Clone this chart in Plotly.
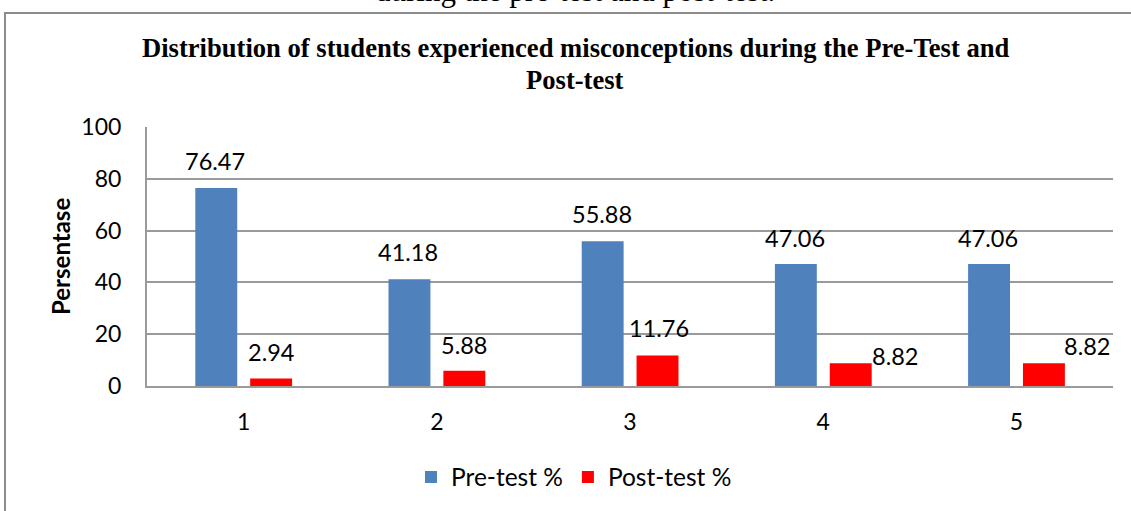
import plotly.graph_objects as go

categories = [1, 2, 3, 4, 5]
pre_test = [76.47, 41.18, 55.88, 47.06, 47.06]
post_test = [2.94, 5.88, 11.76, 8.82, 8.82]
y_ticks = [0, 20, 40, 60, 80, 100]

series_names = ["Pre-test %", "Post-test %"]
title_lines = ["Distribution of students experienced misconceptions during the Pre-Test and", "Post-test"]
caption_above = "during the pre-test and post-test."
y_title = "Persentase"

BLUE = "#4F81BD"
RED = "#FF0000"
GRID = "#9A9A9A"
W, H = 1131, 511
L, R, T, B = 147, 18, 127, 125
PW, PH = W - L - R, H - T - B

def px_x(p):
    return (p - L) / PW

def px_y(p):
    return (H - B - p) / PH

bar_w = 0.217
blue_off = -0.25
red_off = 0.034

fig = go.Figure()
fig.add_trace(go.Bar(x=categories, y=pre_test, name=series_names[0], marker_color=BLUE,
                     width=bar_w, offset=blue_off, marker_line_width=0))
fig.add_trace(go.Bar(x=categories, y=post_test, name=series_names[1], marker_color=RED,
                     width=bar_w, offset=red_off, marker_line_width=0))

font_main = "Lato, 'Noto Sans', sans-serif"
anns = []
# label nudges (pixels) as placed in the reference
pre_yshift = [27, 27, 27, 26, 26]
red_xshift = [0, 0, 1, 44, 43]
red_yshift = [26, 26, 28, 7, 17]
for c, v, ys in zip(categories, pre_test, pre_yshift):
    anns.append(dict(x=c + blue_off + bar_w / 2, y=v, xref="x", yref="y", text=f"{v:.2f}",
                     xanchor="center", yanchor="middle",
                     showarrow=False, yshift=ys, xshift=-1, font=dict(family=font_main, size=23.5, color="#000")))
for c, v, xs, ys in zip(categories, post_test, red_xshift, red_yshift):
    anns.append(dict(x=c + red_off + bar_w / 2, y=v, xref="x", yref="y", text=f"{v:.2f}",
                     xanchor="center", yanchor="middle",
                     showarrow=False, yshift=ys, xshift=xs, font=dict(family=font_main, size=23.5, color="#000")))

serif = "'Liberation Serif', 'Times New Roman', serif"
anns.append(dict(x=px_x(575), y=px_y(48), xref="paper", yref="paper", text=f"<b>{title_lines[0]}</b>",
                 xanchor="center", yanchor="middle",
                 showarrow=False, font=dict(family=serif, size=26.6, color="#000")))
anns.append(dict(x=px_x(575), y=px_y(80), xref="paper", yref="paper", text=f"<b>{title_lines[1]}</b>",
                 xanchor="center", yanchor="middle",
                 showarrow=False, font=dict(family=serif, size=26.6, color="#000")))
anns.append(dict(x=px_x(575), y=px_y(-9), xref="paper", yref="paper", text=caption_above,
                 xanchor="center", yanchor="middle",
                 showarrow=False, font=dict(family=serif, size=31, color="#000")))
anns.append(dict(x=px_x(60), y=px_y(257), xref="paper", yref="paper", text=f"<b>{y_title}</b>",
                 xanchor="center", yanchor="middle",
                 showarrow=False, textangle=-90, font=dict(family=font_main, size=24, color="#000")))

shapes = [dict(type="rect", xref="paper", yref="paper", x0=px_x(5), x1=px_x(1140), y0=px_y(13), y1=px_y(520),
               line=dict(color="#8C8C8C", width=2), fillcolor="rgba(0,0,0,0)", layer="below")]

fig.update_layout(
    width=W, height=H,
    margin=dict(l=L, r=R, t=T, b=B, pad=0),
    paper_bgcolor="white", plot_bgcolor="white",
    annotations=anns, shapes=shapes,
    showlegend=True,
    legend=dict(orientation="h", x=px_x(574), xanchor="center", y=px_y(477), yanchor="middle",
                font=dict(family=font_main, size=24.5, color="#000"), itemwidth=30,
                traceorder="normal"),
    bargap=0.5,
)
fig.update_xaxes(range=[0.5, 5.5], tickvals=categories, ticktext=[str(c) for c in categories],
                 showgrid=False, showline=True, linecolor=GRID, linewidth=2, ticks="",
                 ticklabelstandoff=14, tickfont=dict(family=font_main, size=23, color="#000"),
                 zeroline=False, fixedrange=True)
fig.update_yaxes(range=[0, 100], tickvals=y_ticks, showgrid=True, gridcolor=GRID, gridwidth=2,
                 showline=True, linecolor=GRID, linewidth=2, ticks="", ticklabelstandoff=19,
                 tickfont=dict(family=font_main, size=23, color="#000"), zeroline=False, fixedrange=True)

fig.write_html("out.html", config={"displayModeBar": False},
               post_script="document.body.style.margin='0px';document.body.style.overflow='hidden';")
